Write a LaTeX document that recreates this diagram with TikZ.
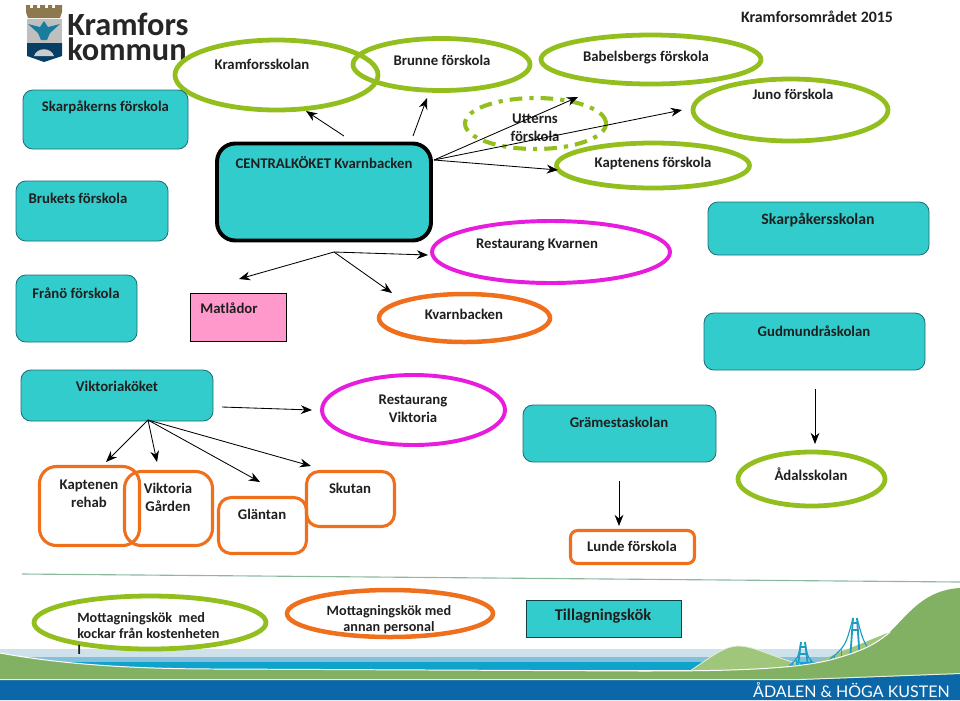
\documentclass[tikz,border=0pt]{standalone}
\usepackage{fontspec}
\setmainfont{Carlito}
\newfontfamily\bannerfont{Lato}
\usetikzlibrary{arrows.meta,shapes.geometric}
\definecolor{tealfill}{HTML}{33CCCC}
\definecolor{tealedge}{HTML}{1D6E78}
\definecolor{ringgreen}{HTML}{93BF1E}
\definecolor{ringorange}{HTML}{EF6F1C}
\definecolor{ringpink}{HTML}{E81CDC}
\definecolor{lidpink}{HTML}{FF99CC}
\definecolor{hillgreen}{HTML}{82B163}
\definecolor{hilllight}{HTML}{A0C67C}
\definecolor{seablue}{HTML}{0FA3CC}
\definecolor{seamid}{HTML}{84BFDC}
\definecolor{seapale}{HTML}{CFE2EC}
\definecolor{bandblue}{HTML}{0B67A8}
\definecolor{bridgeblue}{HTML}{1F9CC4}
\definecolor{ruleline}{HTML}{8DB8A0}
\definecolor{crowntan}{HTML}{8C7A4E}
\tikzset{
  sized/.style 2 args={minimum width=#1*0.025cm,minimum height=#2*0.025cm,inner sep=0pt},
  tealbox/.style={draw=tealedge,fill=tealfill,line width=0.6pt,rounded corners=7pt},
  greenring/.style={ellipse,draw=ringgreen,line width=3.4pt},
  orangering/.style={ellipse,draw=ringorange,line width=3.2pt},
  pinkring/.style={ellipse,draw=ringpink,line width=2.8pt},
  orangebox/.style={draw=ringorange,line width=2.2pt,rounded corners=9pt},
  txt/.style={font=\fontsize{10.5}{12.8}\selectfont\bfseries,text=black!88,align=center,inner sep=0pt,yshift=-0.5pt},
  legendtxt/.style={txt,font=\fontsize{10.1}{11.5}\selectfont\bfseries},
  logotxt/.style={font=\fontsize{23}{17.4}\selectfont\bfseries,text=black!85,inner sep=0pt,anchor=west,align=left},
  arr/.style={-{Stealth[length=2.8mm,width=2.2mm]},line width=0.6pt,black}
}
\begin{document}
\begin{tikzpicture}[x=0.025cm,y=-0.025cm]
\useasboundingbox (0,0) rectangle (960,700);
% landscape along the bottom
\fill[seapale] (0,649) rectangle (960,657);
\fill[seamid] (0,657) rectangle (960,662);
\fill[seablue] (0,662) rectangle (960,670);
\fill[hilllight] (690,671) .. controls (712,656) and (725,646) .. (738,646) .. controls (755,646) and (775,658) .. (800,664) -- (800,672) -- cycle;
\draw[white!70!hilllight,line width=0.6pt] (690,671) .. controls (712,656) and (725,646) .. (738,646) .. controls (755,646) and (775,658) .. (800,664);
\fill[hilllight] (812,664) .. controls (840,652) and (870,640) .. (890,632) -- (880,660) -- cycle;
\foreach \tx/\ty/\by/\sp in {803/642/666/14,855/618/661/27}{
  \draw[bridgeblue,line width=1.3pt] (\tx-5,\by) -- (\tx-2,\ty) (\tx+5,\by) -- (\tx+2,\ty);
  \draw[bridgeblue,line width=0.8pt] (\tx-3,\ty+5) -- (\tx+3,\ty+5) (\tx-4,\ty+12) -- (\tx+4,\ty+12);
  \draw[bridgeblue,line width=0.8pt] (\tx-\sp,\by) .. controls (\tx-\sp*0.35,\by-\sp*0.55) .. (\tx-2,\ty) (\tx+2,\ty) .. controls (\tx+\sp*0.35,\by-\sp*0.55) .. (\tx+\sp,\by);
  \draw[bridgeblue,line width=0.7pt] (\tx-\sp,\by) -- (\tx+\sp,\by-1);
  \draw[bridgeblue,line width=0.7pt] (\tx-\sp*0.75,\by) -- (\tx-\sp*0.75,\by-\sp*0.2) (\tx-\sp*0.5,\by) -- (\tx-\sp*0.5,\by-\sp*0.4) (\tx+\sp*0.5,\by) -- (\tx+\sp*0.5,\by-\sp*0.4) (\tx+\sp*0.75,\by) -- (\tx+\sp*0.75,\by-\sp*0.2);
}
\fill[hillgreen] (0,653) .. controls (60,664) and (130,669) .. (220,669) -- (640,671) .. controls (720,671) and (790,670) .. (830,660) .. controls (860,652) and (875,645) .. (890,632) .. controls (910,612) and (925,590) .. (960,588) -- (960,680) -- (0,680) -- cycle;
\draw[white,line width=0.7pt] (0,653) .. controls (60,664) and (130,669) .. (220,669) -- (640,671) .. controls (720,671) and (790,670) .. (830,660) .. controls (860,652) and (875,645) .. (890,632);
\fill[bandblue] (0,680) -- (800,680) -- (960,674) -- (960,700) -- (0,700) -- cycle;
\draw[white!80!hillgreen,line width=0.7pt] (0,679.5) -- (800,679.5) -- (960,673.5);
\node[font=\bannerfont\fontsize{11.4}{13}\selectfont,text=white,inner sep=0pt] (banner) at (851.5,690) {ÅDALEN \& HÖGA KUSTEN};
\draw[ruleline,line width=0.8pt] (22,574) -- (960,582);
% logo
\fill[crowntan] (26,5) -- (30,5) -- (30,8) -- (33,8) -- (33,5) -- (37,5) -- (37,8) -- (40,8) -- (40,5) -- (45,5) -- (45,8) -- (48,8) -- (48,5) -- (52,5) -- (52,8) -- (55,8) -- (55,5) -- (62,5) -- (62,12) -- (60,18) -- (28,18) -- (26,12) -- cycle;
\fill[black!25] (27,19) rectangle (62,43);
\fill[bandblue!60!black] (27,43) -- (62,43) -- (62,56) -- (44,62) -- (27,56) -- cycle;
\fill[black!20] (34,56) .. controls (37,47) and (51,47) .. (54,56) -- cycle;
\fill[bridgeblue!80!black] (44,21) -- (48,27) -- (60,24) -- (50,33) -- (47,40) -- (41,40) -- (38,33) -- (28,24) -- (40,27) -- cycle;
\node[logotxt] (logoname) at (67,37) {Kramfors\\kommun};
\node[txt,font=\fontsize{11.3}{13}\selectfont\bfseries] (areatitle) at (817,16) {Kramforsområdet 2015};
% rings and boxes
\node[greenring,sized={203}{70}] (kramforsskolan) at (276.5,75) {};
\node[txt] (kramforsskolantext) at (262,64) {Kramforsskolan};
\node[greenring,sized={177}{52}] (brunne) at (441.5,64.5) {};
\node[txt] (brunnetext) at (442,60) {Brunne förskola};
\node[greenring,sized={220}{49}] (babelsberg) at (651,59.5) {};
\node[txt] (babelsbergtext) at (646,57) {Babelsbergs förskola};
\node[greenring,sized={195}{62}] (juno) at (790.5,110) {};
\node[txt] (junotext) at (793,94) {Juno förskola};
\node[greenring,sized={193}{45}] (kaptenens) at (653,165.5) {};
\node[txt] (kaptenenstext) at (653,163) {Kaptenens förskola};
\node[ellipse,draw=ringgreen,line width=2.9pt,dash pattern=on 9pt off 5pt on 3pt off 5pt,sized={141}{51}] (utterns) at (535.5,123.5) {};
\node[txt] (utternstext) at (535,127) {Utterns\\förskola};
\node[pinkring,sized={238}{62}] (kvarnenrest) at (551,252) {};
\node[txt] (kvarnenresttext) at (537,244) {Restaurang Kvarnen};
\node[tealbox,sized={165}{59}] (skarpakern) at (105.5,119.5) {};
\node[txt] (skarpakerntext) at (105.5,107) {Skarpåkerns förskola};
\node[tealbox,sized={152}{60}] (bruket) at (92,211) {};
\node[txt] (brukettext) at (78,198) {Brukets förskola};
\node[draw=black,fill=tealfill,line width=2.8pt,rounded corners=13pt,sized={214}{97}] (central) at (324,192) {};
\node[txt] (centraltext) at (324,162) {CENTRALKÖKET Kvarnbacken};
\node[tealbox,sized={221}{53}] (skarpaker) at (818.5,228.5) {};
\node[txt,font=\fontsize{11.2}{13}\selectfont\bfseries] (skarpakertext) at (818,219) {Skarpåkersskolan};
\node[tealbox,sized={121}{67}] (frano) at (76.5,308.5) {};
\node[txt] (franotext) at (76,292) {Frånö förskola};
\node[draw=black,fill=lidpink,line width=1.1pt,sized={96}{48}] (matlador) at (238.5,317.5) {};
\node[txt] (matladortext) at (229,307) {Matlådor};
\node[orangering,sized={171}{48}] (kvarnbacken) at (464.5,318) {};
\node[txt] (kvarnbackentext) at (464,314) {Kvarnbacken};
\node[tealbox,sized={221}{57}] (gudmundra) at (814.5,341.5) {};
\node[txt] (gudmundratext) at (814,330) {Gudmundråskolan};
\node[tealbox,sized={192}{51}] (viktoriakok) at (117,395.5) {};
\node[txt] (viktoriakoktext) at (117,386) {Viktoriaköket};
\node[pinkring,sized={183}{70}] (viktoriarest) at (413.5,410) {};
\node[txt] (viktoriaresttext) at (413,408) {Restaurang\\Viktoria};
\node[tealbox,sized={193}{57}] (grame) at (619.5,433.5) {};
\node[txt] (grametext) at (619,422) {Grämestaskolan};
\node[greenring,sized={147}{54}] (adals) at (811.5,479) {};
\node[txt] (adalstext) at (811,473) {Ådalsskolan};
\node[orangebox,rounded corners=12pt,sized={100}{79}] (rehab) at (89.5,506) {};
\node[txt] (rehabtext) at (89,493) {Kaptenen\\rehab};
\node[orangebox,rounded corners=12pt,sized={88}{74}] (garden) at (168.5,508.5) {};
\node[txt] (gardentext) at (168,497) {Viktoria\\Gården};
\node[orangebox,sized={88}{56}] (gläntan) at (262.5,525.5) {};
\node[txt] (gläntantext) at (262,514) {Gläntan};
\node[orangebox,sized={88}{55}] (skutan) at (350.5,499) {};
\node[txt] (skutantext) at (350,488) {Skutan};
\node[orangebox,rounded corners=5pt,sized={124}{33}] (lunde) at (632.5,547) {};
\node[txt] (lundetext) at (632,546) {Lunde förskola};
% legend
\node[greenring,sized={232}{53}] (legendgreen) at (150,622.5) {};
\node[legendtxt,align=left,anchor=west] (legendgreentext) at (77,625) {Mottagningskök\ \ med\\kockar från kostenheten};
\node[legendtxt,anchor=west] (legendmark) at (77,649) {I};
\node[orangering,sized={206}{47}] (legendorange) at (390,613.5) {};
\node[legendtxt] (legendorangetext) at (389,619) {Mottagningskök med\\annan personal};
\node[draw=tealedge!60!black,fill=tealfill,line width=0.9pt,sized={155}{37}] (legendteal) at (604,619) {};
\node[txt,font=\fontsize{11.7}{14}\selectfont\bfseries] (legendtealtext) at (603,615) {Tillagningskök};
% arrow ends
\coordinate (centralleft) at (344,136);
\coordinate (centralright) at (413,136);
\coordinate (centralout) at (434,160);
\coordinate (centralbelow) at (334,252);
\coordinate (tobrunne) at (427,98);
\coordinate (tokramfors) at (306,111);
\coordinate (toutterns) at (578,97);
\coordinate (tojuno) at (682,110);
\coordinate (tokaptenens) at (558,170);
\coordinate (tokvarnen) at (428,255);
\coordinate (tomatlador) at (239,279);
\coordinate (tokvarnbacken) at (392,293);
\coordinate (viktoriaout) at (222,407);
\coordinate (toviktoriarest) at (312,410);
\coordinate (viktoriabelow) at (148,420);
\coordinate (torehab) at (106,462);
\coordinate (togarden) at (157,462);
\coordinate (togläntan) at (260,482);
\coordinate (toskutan) at (311,466);
\coordinate (gudmundraout) at (815,389);
\coordinate (toadals) at (815,444);
\coordinate (grameout) at (619,481);
\coordinate (tolunde) at (619,526);
\draw[arr] (centralleft) -- (tokramfors);
\draw[arr] (centralright) -- (tobrunne);
\draw[arr] (centralout) -- (toutterns);
\draw[arr] (centralout) -- (tojuno);
\draw[arr] (centralout) -- (tokaptenens);
\draw[arr] (centralbelow) -- (tokvarnen);
\draw[arr] (centralbelow) -- (tomatlador);
\draw[arr] (centralbelow) -- (tokvarnbacken);
\draw[arr] (viktoriaout) -- (toviktoriarest);
\draw[arr] (viktoriabelow) -- (torehab);
\draw[arr] (viktoriabelow) -- (togarden);
\draw[arr] (viktoriabelow) -- (togläntan);
\draw[arr] (viktoriabelow) -- (toskutan);
\draw[arr] (gudmundraout) -- (toadals);
\draw[arr] (grameout) -- (tolunde);
\end{tikzpicture}
\end{document}
